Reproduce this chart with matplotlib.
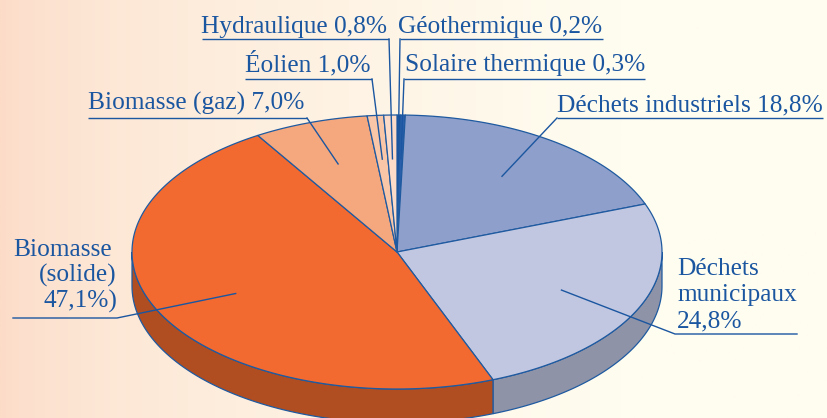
import numpy as np
import matplotlib
matplotlib.use("Agg")
import matplotlib.pyplot as plt
from matplotlib.patches import Polygon

# ---- data ----
categories = ["Géothermique", "Solaire thermique", "Déchets industriels",
              "Déchets municipaux", "Biomasse (solide)", "Biomasse (gaz)",
              "Éolien", "Hydraulique"]
values = [0.2, 0.3, 18.8, 24.8, 47.1, 7.0, 1.0, 0.8]
labels = ["Géothermique 0,2%", "Solaire thermique 0,3%", "Déchets industriels 18,8%",
          "Déchets\nmunicipaux\n24,8%", "Biomasse\n(solide)\n47,1%)", "Biomasse (gaz) 7,0%",
          "Éolien 1,0%", "Hydraulique 0,8%"]

# ---- styles ----
top_colors = ["#0d3f8e", "#2a5fac", "#8d9fca", "#c1c7e1", "#f26a30", "#f5a77d",
              "#f9c6a7", "#fcdcc8"]
side_colors = ["#0a2f6a", "#1f4886", "#6a7a9c", "#8e93a7", "#b04d21", "#c07e5c",
               "#c99a80", "#cfae9c"]
edge = "#1f5aa0"
txt = "#1b56a0"
W, H = 827, 418
cx, cy, rx, ry, depth = 397, 252, 265, 137, 34

fig = plt.figure(figsize=(W / 100, H / 100), dpi=100)
ax = fig.add_axes([0, 0, 1, 1])
ax.set_xlim(0, W)
ax.set_ylim(H, 0)
ax.axis("off")

# background gradient
xs = np.linspace(0, 1, 400)
t = np.clip(xs / 0.75, 0, 1) ** 0.6
c0 = np.array([252, 219, 199]) / 255
c1 = np.array([255, 253, 240]) / 255
grad = (c0[None, :] * (1 - t[:, None]) + c1[None, :] * t[:, None])[None, :, :]
ax.imshow(grad, extent=[0, W, H, 0], aspect="auto", zorder=0)

fr = np.array(values) / sum(values)
cum = np.concatenate([[0], np.cumsum(fr)])
th_start = 90 - 360 * cum[:-1]
th_end = 90 - 360 * cum[1:]


def pt(theta_deg, dz=0.0, r=1.0):
    th = np.radians(theta_deg)
    return cx + rx * r * np.cos(th), cy - ry * r * np.sin(th) + dz


# sides (front half: angles in [-180, 0])
for i in range(len(values)):
    a0, a1 = max(th_end[i], -180), min(th_start[i], 0)
    if a1 <= a0:
        continue
    ang = np.linspace(a1, a0, 80)
    xt, yt = pt(ang)
    xb, yb = pt(ang[::-1], depth)
    poly = np.column_stack([np.concatenate([xt, xb]), np.concatenate([yt, yb])])
    ax.add_patch(Polygon(poly, closed=True, facecolor=side_colors[i],
                         edgecolor=edge, lw=0.9, zorder=2))

# top faces
for i in range(len(values)):
    n = max(4, int(abs(th_start[i] - th_end[i]) * 2))
    ang = np.linspace(th_start[i], th_end[i], n)
    xa, ya = pt(ang)
    poly = np.column_stack([np.concatenate([[cx], xa]), np.concatenate([[cy], ya])])
    ax.add_patch(Polygon(poly, closed=True, facecolor=top_colors[i],
                         edgecolor=edge, lw=0.9, zorder=3, joinstyle="round"))

# labels: (text x, baseline y, ha, underline x0, x1, underline y, leader start x)
fs = 18.3
font = "Liberation Serif"
layout = {
    "Géothermique 0,2%": (398, 33, 400, 603, 39, 400),
    "Solaire thermique 0,3%": (405, 71, 404, 645, 79, 404),
    "Déchets industriels 18,8%": (557, 111, 557, 823, 118, 557),
    "Biomasse (gaz) 7,0%": (88, 110, 88, 307, 118, 307),
    "Éolien 1,0%": (245, 71, 245, 372, 79, 372),
    "Hydraulique 0,8%": (201, 33, 202, 389, 39, 389),
}
for i, lab in enumerate(labels):
    mid = (th_start[i] + th_end[i]) / 2
    tipx, tipy = pt(mid, r=0.68)
    if lab in layout:
        tx, ty, u0, u1, uy, lx = layout[lab]
        ax.text(tx, ty, lab, ha="left", va="baseline", fontsize=fs,
                family=font, color=txt, zorder=5)
        ax.plot([u0, u1], [uy, uy], color=txt, lw=1.0, zorder=5,
                solid_capstyle="butt")
        ax.plot([lx, tipx], [uy, tipy], color=txt, lw=1.0, zorder=5)
    elif lab.startswith("Biomasse\n"):
        lines = lab.split("\n")
        ax.text(13, 256, lines[0], ha="left", va="baseline", fontsize=fs,
                family=font, color=txt, zorder=5)
        ax.text(117, 282, lines[1], ha="right", va="baseline", fontsize=fs,
                family=font, color=txt, zorder=5)
        ax.text(117, 308, lines[2], ha="right", va="baseline", fontsize=fs,
                family=font, color=txt, zorder=5)
        ax.plot([13, 117, tipx], [318, 318, tipy], color=txt, lw=1.0, zorder=5)
    else:
        lines = lab.split("\n")
        for k, ln in enumerate(lines):
            ax.text(677, 275 + 26 * k, ln, ha="left", va="baseline", fontsize=fs,
                    family=font, color=txt, zorder=5)
        ax.plot([797, 675, tipx], [334, 334, tipy], color=txt, lw=1.0, zorder=5)

fig.savefig("out.png", dpi=100)
